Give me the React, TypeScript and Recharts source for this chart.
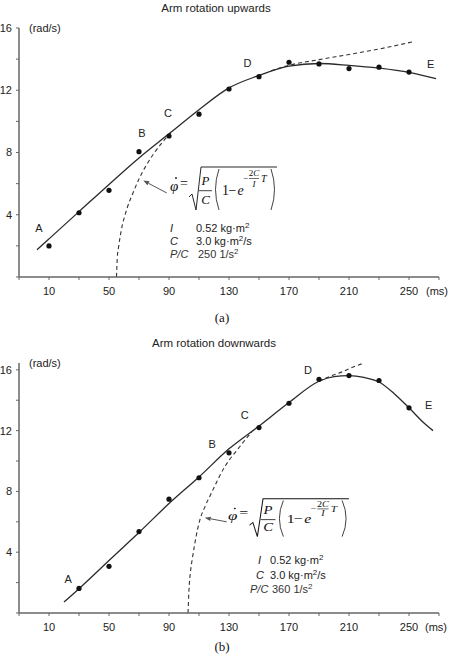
import React from 'react';
import { ComposedChart, Line, Scatter, XAxis, YAxis, ReferenceLine } from 'recharts';

// ---------- axes ----------
const xTicks = [-10, 10, 30, 50, 70, 90, 110, 130, 150, 170, 190, 210, 230, 250, 270];
const xTickLabels = [10, 50, 90, 130, 170, 210, 250];
const yTicks = [0, 2, 4, 6, 8, 10, 12, 14, 16];
const yTickLabels = [4, 8, 12, 16];

// ---------- (a) Arm rotation upwards ----------
const upPointT = [10, 30, 50, 70, 90, 110, 130, 150, 170, 190, 210, 230, 250];
const upPointV = [2.0, 4.13, 5.57, 8.05, 9.06, 10.46, 12.08, 12.87, 13.8, 13.69, 13.39, 13.48, 13.17];

const upFitT = [2, 10, 30, 50, 70, 90, 110, 130, 150, 170, 190, 210, 230, 250, 268];
const upFitV = [1.75, 2.45, 4.2, 5.95, 7.65, 9.2, 10.75, 12.15, 12.95, 13.55, 13.72, 13.6, 13.42, 13.15, 12.75];

const upModelAT = [55, 55.5, 56.5, 58, 62, 66, 70, 75, 80, 86, 92];
const upModelAV = [0, 1.2, 2.0, 2.9, 4.4, 5.4, 6.3, 7.2, 7.95, 8.7, 9.35];
const upModelBT = [158, 170, 190, 210, 230, 252];
const upModelBV = [13.25, 13.6, 13.97, 14.3, 14.65, 15.1];

const upLetterNames = ['A', 'B', 'C', 'D', 'E'];
const upLetterT = [3.3, 72, 89.4, 142.3, 264.5];
const upLetterV = [3.13, 9.23, 10.52, 13.73, 13.69];

const upArrowT = [88.5, 72.8];
const upArrowV = [5.4, 6.2];

const upParams = ['0.52', '3.0', '250'];

// ---------- (b) Arm rotation downwards ----------
const downPointT = [30, 50, 70, 90, 110, 130, 150, 170, 190, 210, 230, 250];
const downPointV = [1.62, 3.07, 5.36, 7.49, 8.9, 10.54, 12.2, 13.8, 15.38, 15.62, 15.3, 13.5];

const downFitT = [20, 30, 50, 70, 90, 110, 130, 150, 170, 190, 200, 210, 220, 230, 240, 250, 260, 266];
const downFitV = [0.72, 1.6, 3.45, 5.3, 7.2, 8.95, 10.8, 12.3, 13.85, 15.25, 15.55, 15.62, 15.5, 15.2, 14.45, 13.5, 12.5, 12.0];

const downModelAT = [102.7, 103.3, 104.3, 105.6, 108, 110.5, 114, 118.3, 127, 136, 145];
const downModelAV = [0, 1.5, 2.7, 3.6, 5.0, 6.1, 7.0, 7.9, 9.6, 10.8, 11.9];
const downModelBT = [190, 198, 205, 212, 220];
const downModelBV = [15.25, 15.6, 15.85, 16.15, 16.45];

const downLetterNames = ['A', 'B', 'C', 'D', 'E'];
const downLetterT = [22.7, 118.7, 140.5, 182.7, 263.1];
const downLetterV = [2.22, 11.12, 13.04, 15.98, 13.68];

const downArrowT = [128.5, 113.8];
const downArrowV = [6.0, 6.27];

const downParams = ['0.52', '3.0', '360'];

// ---------- helpers ----------
const toPts = (xs: number[], ys: number[]) => xs.map((x, i) => ({ x, y: ys[i] }));
const toLabels = (names: string[], xs: number[], ys: number[]) =>
  names.map((label, i) => ({ x: xs[i], y: ys[i], label }));

const SANS = '"Liberation Sans", Arial, Helvetica, sans-serif';
const SERIF = '"Liberation Serif", "Times New Roman", Times, serif';
const AXIS = '#666';
const INK = '#222';

const DotShape = (p: any) => <circle cx={p.cx} cy={p.cy} r={2.6} fill="#111" />;
const LetterShape = (p: any) => (
  <text x={p.cx} y={p.cy} dy="0.36em" textAnchor="middle" fontFamily={SANS} fontSize={11} fill={INK}>
    {p.payload.label}
  </text>
);
const ArrowShape = (p: any) => {
  const { x1, y1, x2, y2 } = p;
  const a = Math.atan2(y2 - y1, x2 - x1);
  const L = 6;
  const W = 2.2;
  const bx = x2 - L * Math.cos(a);
  const by = y2 - L * Math.sin(a);
  const pts = `${x2},${y2} ${bx + W * Math.sin(a)},${by - W * Math.cos(a)} ${bx - W * Math.sin(a)},${by + W * Math.cos(a)}`;
  return (
    <g>
      <line x1={x1} y1={y1} x2={bx} y2={by} stroke="#555" strokeWidth={1} />
      <polygon points={pts} fill="#555" />
    </g>
  );
};

type PanelProps = {
  height: number;
  xAxisHeight: number;
  points: { x: number; y: number }[];
  fit: { x: number; y: number }[];
  modelA: { x: number; y: number }[];
  modelB: { x: number; y: number }[];
  letters: { x: number; y: number; label: string }[];
  arrow: { x: number; y: number }[];
};

const Panel = ({ height, xAxisHeight, points, fit, modelA, modelB, letters, arrow }: PanelProps) => (
  <ComposedChart width={450} height={height} margin={{ top: 28, right: 11, bottom: 0, left: 0 }}>
    <XAxis
      type="number"
      dataKey="x"
      domain={[-10, 270]}
      ticks={xTicks}
      interval={0}
      height={xAxisHeight}
      tickSize={3}
      tickMargin={7}
      axisLine={{ stroke: AXIS, strokeWidth: 1.5 }}
      tickLine={{ stroke: AXIS }}
      tick={{ fontSize: 11, fill: INK, fontFamily: SANS }}
      tickFormatter={(v: number) => (xTickLabels.includes(v) ? String(v) : '')}
    />
    <YAxis
      type="number"
      dataKey="y"
      domain={[0, 16]}
      ticks={yTicks}
      interval={0}
      width={19}
      tickSize={3}
      tickMargin={4}
      axisLine={{ stroke: AXIS, strokeWidth: 1.5 }}
      tickLine={{ stroke: AXIS }}
      tick={{ fontSize: 11, fill: INK, fontFamily: SANS }}
      tickFormatter={(v: number) => (yTickLabels.includes(v) ? String(v) : '')}
    />
    <Line data={modelA} dataKey="y" type="monotone" stroke="#333" strokeWidth={1.1} strokeDasharray="4 3" dot={false} activeDot={false} isAnimationActive={false} />
    <Line data={modelB} dataKey="y" type="monotone" stroke="#333" strokeWidth={1.1} strokeDasharray="4 3" dot={false} activeDot={false} isAnimationActive={false} />
    <Line data={fit} dataKey="y" type="monotone" stroke="#2a2a2a" strokeWidth={1.3} dot={false} activeDot={false} isAnimationActive={false} />
    <Scatter data={points} dataKey="y" shape={DotShape} isAnimationActive={false} />
    <Scatter data={letters} dataKey="y" shape={LetterShape} isAnimationActive={false} />
    <ReferenceLine segment={[arrow[0], arrow[1]]} shape={ArrowShape} ifOverflow="visible" />
  </ComposedChart>
);

const Formula = ({ x, y, sx = 1, sy = 1 }: { x: number; y: number; sx?: number; sy?: number }) => (
  <g transform={`translate(${x},${y}) scale(${sx},${sy})`} fill="#111" fontFamily={SERIF}>
    <text x={0} y={1} fontSize={15} fontStyle="italic">φ</text>
    <circle cx={6} cy={-12} r={0.9} />
    <text x={10} y={-2} fontSize={14}>=</text>
    <path d="M19 7 L22 4 L26 20 L31 -23 L107 -23" fill="none" stroke="#111" strokeWidth={0.9} />
    <text x={35.5} y={-5.5} fontSize={13} fontStyle="italic" textAnchor="middle">P</text>
    <line x1={29} x2={42} y1={0.7} y2={0.7} stroke="#111" strokeWidth={0.8} />
    <text x={35.5} y={13.5} fontSize={13} fontStyle="italic" textAnchor="middle">C</text>
    <path d="M49 -21 Q42 -0.5 49 20" fill="none" stroke="#111" strokeWidth={0.8} />
    <text x={52} y={4.5} fontSize={14}>1</text>
    <text x={58.5} y={4.5} fontSize={14}>−</text>
    <text x={67.5} y={4.5} fontSize={14} fontStyle="italic">e</text>
    <text x={73} y={-9} fontSize={9}>−</text>
    <text x={84} y={-14} fontSize={9} textAnchor="middle">
      2<tspan fontStyle="italic">C</tspan>
    </text>
    <line x1={79} x2={89} y1={-11.5} y2={-11.5} stroke="#111" strokeWidth={0.6} />
    <text x={84} y={-3.5} fontSize={9} fontStyle="italic" textAnchor="middle">I</text>
    <text x={91} y={-8.5} fontSize={10} fontStyle="italic">T</text>
    <path d="M101 -21 Q108 -0.5 101 20" fill="none" stroke="#111" strokeWidth={0.8} />
  </g>
);

const Params = ({
  vx, y, gap, vals, ix,
}: { vx: number; y: number; gap: number; vals: string[]; ix: [number, number, number] }) => (
  <g fontFamily={SANS} fontSize={11} fill={INK}>
    <text x={ix[0]} y={y} fontStyle="italic">I</text>
    <text x={vx} y={y}>
      {vals[0]} kg·m<tspan dy={-4} fontSize={8}>2</tspan>
    </text>
    <text x={ix[1]} y={y + gap} fontStyle="italic">C</text>
    <text x={vx} y={y + gap}>
      {vals[1]} kg·m<tspan dy={-4} fontSize={8}>2</tspan>
      <tspan dy={4}>/s</tspan>
    </text>
    <text x={ix[2]} y={y + 2 * gap} fontStyle="italic" fill="#333">P/C</text>
    <text x={vx + 2} y={y + 2 * gap} fill="#333">
      {vals[2]} 1/s<tspan dy={-4} fontSize={8}>2</tspan>
    </text>
  </g>
);

export default function App() {
  return (
    <div style={{ position: 'absolute', left: 0, top: 0, width: 450, height: 656, background: '#fff', overflow: 'hidden' }}>
      <div style={{ position: 'absolute', left: 0, top: 0 }}>
        <Panel
          height={330}
          xAxisHeight={53}
          points={toPts(upPointT, upPointV)}
          fit={toPts(upFitT, upFitV)}
          modelA={toPts(upModelAT, upModelAV)}
          modelB={toPts(upModelBT, upModelBV)}
          letters={toLabels(upLetterNames, upLetterT, upLetterV)}
          arrow={toPts(upArrowT, upArrowV)}
        />
      </div>
      <div style={{ position: 'absolute', left: 0, top: 335 }}>
        <Panel
          height={321}
          xAxisHeight={43}
          points={toPts(downPointT, downPointV)}
          fit={toPts(downFitT, downFitV)}
          modelA={toPts(downModelAT, downModelAV)}
          modelB={toPts(downModelBT, downModelBV)}
          letters={toLabels(downLetterNames, downLetterT, downLetterV)}
          arrow={toPts(downArrowT, downArrowV)}
        />
      </div>
      <svg width={450} height={656} style={{ position: 'absolute', left: 0, top: 0, pointerEvents: 'none' }}>
        <g fontFamily={SANS} fill={INK}>
          <text x={216} y={12} textAnchor="middle" fontSize={11.5}>Arm rotation upwards</text>
          <text x={214} y={347} textAnchor="middle" fontSize={11.5}>Arm rotation downwards</text>
          <text x={29} y={32} fontSize={11}>(rad/s)</text>
          <text x={29} y={367} fontSize={11}>(rad/s)</text>
          <text x={426} y={295} fontSize={11}>(ms)</text>
          <text x={425} y={631} fontSize={11}>(ms)</text>
        </g>
        <g fontFamily={SERIF} fontSize={13} fill="#111">
          <text x={222} y={321.5} textAnchor="middle">(a)</text>
          <text x={222} y={651} textAnchor="middle">(b)</text>
        </g>
        <Formula x={170} y={190} />
        <Params vx={196} y={232} gap={13} vals={upParams} ix={[170, 170, 170]} />
        <Formula x={228} y={519} sx={1.13} sy={0.88} />
        <Params vx={270} y={564} gap={14.5} vals={downParams} ix={[258, 256, 250]} />
      </svg>
    </div>
  );
}
